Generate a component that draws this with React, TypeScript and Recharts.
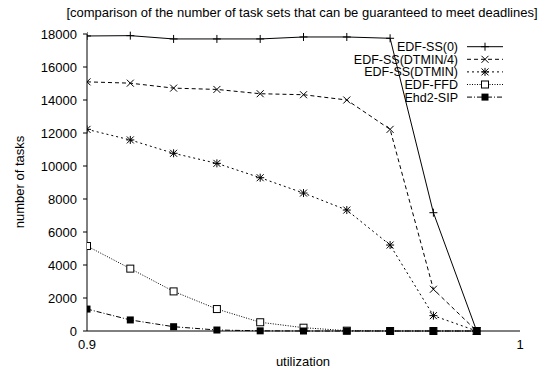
import React from "react";
import { Customized, Legend, Line, LineChart, XAxis, YAxis } from "recharts";

const FONT = "'Liberation Sans', Arial, Helvetica, sans-serif";

// utilization steps on the x axis
const utilization = [0.9, 0.91, 0.92, 0.93, 0.94, 0.95, 0.96, 0.97, 0.98, 0.99];

// number of task sets that meet their deadlines, per scheduler
const edfSs0 = [17880, 17900, 17700, 17700, 17700, 17820, 17820, 17740, 7170, 0];
const edfSsDtmin4 = [15100, 15020, 14720, 14640, 14380, 14320, 14000, 12220, 2530, 0];
const edfSsDtmin = [12220, 11580, 10770, 10160, 9290, 8360, 7330, 5210, 930, 0];
const edfFfd = [5150, 3780, 2400, 1330, 530, 200, 20, 0, 0, 0];
const ehd2Sip = [1330, 670, 260, 60, 10, 0, 0, 0, 0, 0];

const yTicks = [0, 2000, 4000, 6000, 8000, 10000, 12000, 14000, 16000, 18000];
const xTicks = [0.9, 1];

type MarkerKind = "plus" | "cross" | "star" | "box" | "filledBox";

type Series = {
  key: string;
  name: string;
  values: number[];
  dash?: string;
  marker: MarkerKind;
};

const series: Series[] = [
  { key: "ss0", name: "EDF-SS(0)", values: edfSs0, marker: "plus" },
  { key: "ssDtmin4", name: "EDF-SS(DTMIN/4)", values: edfSsDtmin4, dash: "4 3", marker: "cross" },
  { key: "ssDtmin", name: "EDF-SS(DTMIN)", values: edfSsDtmin, dash: "2 3", marker: "star" },
  { key: "ffd", name: "EDF-FFD", values: edfFfd, dash: "1 1.5", marker: "box" },
  { key: "sip", name: "Ehd2-SIP", values: ehd2Sip, dash: "5 2 1 2", marker: "filledBox" },
];

const data = utilization.map((u, i) => {
  const row: Record<string, number> = { u };
  series.forEach((s) => {
    row[s.key] = s.values[i];
  });
  return row;
});

function Marker({ kind, cx, cy }: { kind: MarkerKind; cx: number; cy: number }) {
  const plus = `M${cx - 4},${cy}h8M${cx},${cy - 4}v8`;
  const cross = `M${cx - 3.5},${cy - 3.5}l7,7M${cx - 3.5},${cy + 3.5}l7,-7`;
  switch (kind) {
    case "plus":
      return <path d={plus} stroke="#000" strokeWidth={1} fill="none" />;
    case "cross":
      return <path d={cross} stroke="#000" strokeWidth={1} fill="none" />;
    case "star":
      return <path d={plus + cross} stroke="#000" strokeWidth={1} fill="none" />;
    case "box":
      return <rect x={cx - 3.5} y={cy - 3.5} width={7} height={7} fill="#fff" stroke="#000" strokeWidth={1} />;
    default:
      return <rect x={cx - 3.5} y={cy - 3.5} width={7} height={7} fill="#000" />;
  }
}

function YTick({ x, y, payload }: any) {
  return (
    <text x={x} y={y + 4.5} textAnchor="end" fontFamily={FONT} fontSize={13} fill="#000">
      {payload.value}
    </text>
  );
}

function XTick({ x, y, payload }: any) {
  return (
    <text x={x} y={y + 8} textAnchor="middle" fontFamily={FONT} fontSize={13} fill="#000">
      {payload.value === 1 ? "1" : payload.value.toFixed(1)}
    </text>
  );
}

// gnuplot-style key: right-aligned titles followed by a line sample
function KeyBox() {
  const textRight = 118;
  return (
    <svg width={180} height={72}>
      {series.map((s, i) => {
        const cy = 10.7 + i * 12.6;
        return (
          <g key={s.key}>
            <text x={textRight} y={cy + 4.4} textAnchor="end" fontFamily={FONT} fontSize={12.5} fill="#000">
              {s.name}
            </text>
            <line x1={textRight + 9} x2={textRight + 45} y1={cy} y2={cy} stroke="#000" strokeDasharray={s.dash} />
            <Marker kind={s.marker} cx={textRight + 27} cy={cy} />
          </g>
        );
      })}
    </svg>
  );
}

function Labels() {
  return (
    <g fontFamily={FONT} fontSize={13} fill="#000">
      <text x={302} y={17} textAnchor="middle">
        [comparison of the number of task sets that can be guaranteed to meet deadlines]
      </text>
      <text x={24} y={182} textAnchor="middle" transform="rotate(-90 24 182)">
        number of tasks
      </text>
      <text x={303} y={366} textAnchor="middle">
        utilization
      </text>
    </g>
  );
}

export default function App() {
  return (
    <div style={{ position: "absolute", left: 0, top: 0 }}>
      <LineChart width={547} height={372} data={data} margin={{ top: 34, right: 27, bottom: 0, left: 0 }}>
        <XAxis
          dataKey="u"
          type="number"
          domain={[0.9, 1]}
          ticks={xTicks}
          allowDataOverflow
          height={41}
          stroke="#000"
          tickLine={false}
          tickMargin={4}
          tick={<XTick />}
        />
        <XAxis xAxisId="top" orientation="top" dataKey="u" type="number" domain={[0.9, 1]} height={0} tick={false} tickLine={false} stroke="#000" />
        <YAxis
          type="number"
          domain={[0, 18000]}
          ticks={yTicks}
          width={87}
          stroke="#000"
          tickSize={4}
          tickMargin={6}
          tick={<YTick />}
        />
        <YAxis yAxisId="right" orientation="right" domain={[0, 18000]} width={0} tick={false} tickLine={false} stroke="#000" />
        <Legend
          layout="vertical"
          align="center"
          verticalAlign="middle"
          content={() => <KeyBox />}
          wrapperStyle={{ left: 340, top: 36, width: 180, height: 72 }}
        />
        {series.map((s) => (
          <Line
            key={s.key}
            dataKey={s.key}
            name={s.name}
            type="linear"
            stroke="#000"
            strokeWidth={1}
            strokeDasharray={s.dash}
            isAnimationActive={false}
            dot={(p: any) => (
              <g key={`${s.key}-${p.index}`}>
                <Marker kind={s.marker} cx={p.cx} cy={p.cy} />
              </g>
            )}
            activeDot={false}
          />
        ))}
        <Customized component={Labels} />
      </LineChart>
    </div>
  );
}
